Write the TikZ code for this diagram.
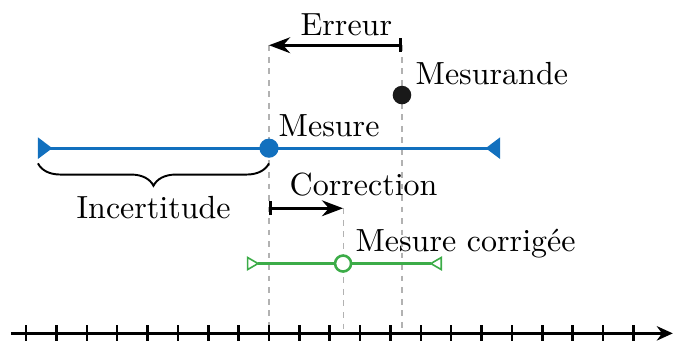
\documentclass[tikz,border=0pt]{standalone}
\usepackage{tikz}
\usetikzlibrary{arrows.meta,decorations.pathreplacing,positioning}
\definecolor{bleu}{RGB}{18,112,190}
\definecolor{vert}{RGB}{60,172,72}

\begin{document}
\begin{tikzpicture}[x=1cm/3,y=1cm/3,>=Stealth,
  guide/.style={gray!60,line width=0.35pt,dash pattern=on 1.8pt off 1.8pt},
  txt/.style={anchor=base west,inner sep=0pt},
  dot/.style={circle,inner sep=0pt,minimum size=#1}]
\useasboundingbox (-8.86,-6.39) rectangle (13.34,4.88);

\coordinate (errA) at (4.38,3.39);
\coordinate (errB) at (0,3.39);
\coordinate (corA) at (0,-1.98);
\coordinate (corB) at (2.44,-1.98);
\coordinate (incG) at (-7.61,0);
\coordinate (incD) at (7.61,0);
\coordinate (verG) at (-0.73,-3.8);
\coordinate (verD) at (5.7,-3.8);
\coordinate (axeG) at (-8.5,-6.1);
\coordinate (axeD) at (13.3,-6.1);

% reperes
\draw[guide] (errB) -- (errB |- axeG);
\draw[guide] (errA) -- (errA |- axeG);
\draw[guide] (corB) -- (corB |- axeG);

% axe
\foreach \i in {-8,...,12}
  \draw[thick] (\i,-5.84) -- (\i,-6.36);
\draw[thick,-{Stealth[length=5pt,width=4.5pt]}] (axeG) -- (axeD);

% intervalles
\draw[bleu,line width=0.9pt,{Triangle[reversed,length=4.5pt,width=6.5pt]}-{Triangle[reversed,length=4.5pt,width=6.5pt]}] (incG) -- (incD);
\draw[vert,line width=0.8pt,{Triangle[open,reversed,length=4pt,width=4.5pt,line width=0.5pt]}-{Triangle[open,reversed,length=4pt,width=4.5pt,line width=0.5pt]}] (verG) -- (verD);

% points
\node[dot=6pt,fill=bleu] (mesure) at (0,0) {};
\node[dot=5.8pt,fill=black!90] (mesurande) at (4.38,1.75) {};
\node[dot=5pt,draw=vert,fill=white,line width=0.8pt] (corrigee) at (2.44,-3.8) {};

% fleches
\draw[thick,{Bar[width=4.5pt]}->] (errA) -- (errB);
\draw[thick,{Bar[width=4.5pt]}->] (corA) -- (corB);
\draw[semithick,decorate,decoration={brace,mirror,amplitude=7pt}] (-7.61,-0.5) -- (0,-0.5);

% textes
\node[txt] at (1.02,3.72) {Erreur};
\node[txt] at (4.81,2.11) {Mesurande};
\node[txt] at (0.30,0.40) {Mesure};
\node[txt] at (0.66,-1.55) {Correction};
\node[anchor=base,inner sep=0pt] at (-3.8,-2.31) {Incertitude};
\node[txt] at (2.83,-3.39) {Mesure corrigée};
\end{tikzpicture}
\end{document}
